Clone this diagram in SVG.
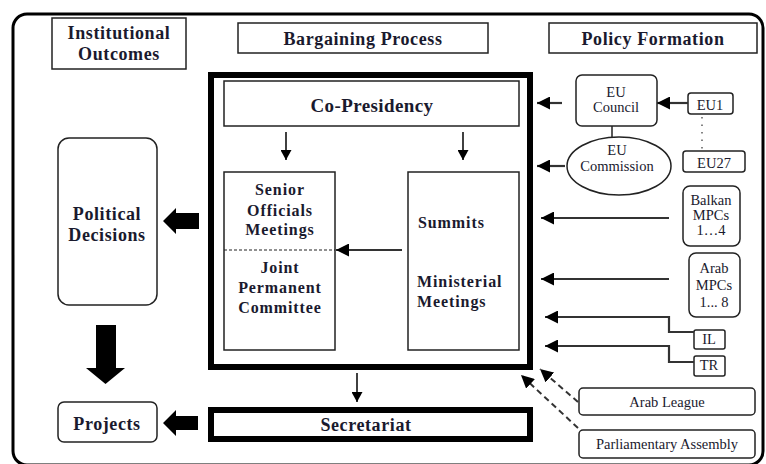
<svg xmlns="http://www.w3.org/2000/svg" width="766" height="464" viewBox="0 0 766 464">
<style>
  .hb{font-family:"Liberation Serif","Times New Roman",serif;font-weight:bold;font-size:18px;letter-spacing:0.6px;fill:#1a1a2e;text-anchor:middle}
  .bb{font-family:"Liberation Serif","Times New Roman",serif;font-weight:bold;font-size:16px;letter-spacing:0.9px;fill:#1a1a2e;text-anchor:middle}
  .rt{font-family:"Liberation Serif","Times New Roman",serif;font-size:14.5px;fill:#1a1a2e;text-anchor:middle}
  .box{fill:#fff;stroke:#222;stroke-width:1.5}
  .thick{fill:#fff;stroke:#000;stroke-width:6}
  .ln{fill:none;stroke:#111;stroke-width:1.6}
  .ln2{fill:none;stroke:#333;stroke-width:2.2}
  .dash{fill:none;stroke:#333;stroke-width:2;stroke-dasharray:6 4}
</style>
<defs>
  <marker id="ah" markerUnits="userSpaceOnUse" markerWidth="10" markerHeight="11" refX="10" refY="5.5" orient="auto">
    <path d="M0,0 L10,5.5 L0,11 z" fill="#000"/>
  </marker>
  <marker id="ahL" markerUnits="userSpaceOnUse" markerWidth="13" markerHeight="13" refX="13" refY="6.5" orient="auto">
    <path d="M0,0 L13,6.5 L0,13 z" fill="#000"/>
  </marker>
</defs>
<rect x="0" y="0" width="766" height="464" fill="#fff"/>
<rect x="13" y="14" width="750" height="451" rx="14" fill="none" stroke="#000" stroke-width="3"/>

<g id="institutional-outcomes">
  <rect class="box" x="52" y="18" width="134" height="51"/>
  <text class="hb" x="119" y="39">Institutional</text>
  <text class="hb" x="119" y="60">Outcomes</text>
</g>
<g id="bargaining-process">
  <rect class="box" x="238" y="23" width="250" height="30"/>
  <text class="hb" x="363" y="45">Bargaining Process</text>
</g>
<g id="policy-formation">
  <rect class="box" x="549" y="23" width="208" height="30"/>
  <text class="hb" x="653" y="45">Policy Formation</text>
</g>

<g id="bargaining-frame">
  <rect class="thick" x="211" y="75" width="319" height="292"/>
</g>
<g id="co-presidency">
  <rect class="box" x="224" y="81" width="295" height="45"/>
  <text class="hb" x="372" y="112" style="font-size:19px;letter-spacing:0.4px">Co-Presidency</text>
</g>
<g id="senior-officials">
  <rect class="box" x="224" y="172" width="111" height="178"/>
  <text class="bb" x="280" y="195">Senior</text>
  <text class="bb" x="280" y="216">Officials</text>
  <text class="bb" x="280" y="235">Meetings</text>
  <line x1="224" y1="250" x2="335" y2="250" stroke="#222" stroke-width="1.2" stroke-dasharray="3 2"/>
  <text class="bb" x="280" y="273">Joint</text>
  <text class="bb" x="280" y="293">Permanent</text>
  <text class="bb" x="280" y="313">Committee</text>
</g>
<g id="summits">
  <rect class="box" x="408" y="172" width="111" height="178"/>
  <text class="bb" x="418" y="228" style="text-anchor:start">Summits</text>
  <text class="bb" x="417" y="287" style="text-anchor:start">Ministerial</text>
  <text class="bb" x="417" y="307" style="text-anchor:start">Meetings</text>
</g>
<g id="secretariat">
  <rect class="thick" x="211" y="410" width="319" height="29"/>
  <text class="hb" x="366" y="431">Secretariat</text>
</g>
<g id="political-decisions">
  <rect class="box" x="58" y="138" width="99" height="167" rx="11"/>
  <text class="hb" x="107" y="220">Political</text>
  <text class="hb" x="107" y="241">Decisions</text>
</g>
<g id="projects">
  <rect class="box" x="58" y="402" width="99" height="40" rx="6"/>
  <text class="hb" x="107" y="430">Projects</text>
</g>

<g id="eu-council">
  <rect class="box" x="576" y="75" width="81" height="51" rx="6"/>
  <text class="rt" x="616" y="97">EU</text>
  <text class="rt" x="616" y="112">Council</text>
</g>
<g id="eu-commission">
  <ellipse class="box" cx="619" cy="166" rx="52" ry="29"/>
  <text class="rt" x="617" y="155">EU</text>
  <text class="rt" x="617" y="171">Commission</text>
</g>
<g id="eu1">
  <rect class="box" x="688" y="93" width="45" height="21" rx="3"/>
  <text class="rt" x="710" y="110">EU1</text>
</g>
<g id="eu27">
  <rect class="box" x="683" y="151" width="62" height="21" rx="3"/>
  <text class="rt" x="714" y="168">EU27</text>
</g>
<g id="balkan-mpcs">
  <rect class="box" x="683" y="186" width="57" height="60" rx="7"/>
  <text class="rt" x="711" y="205">Balkan</text>
  <text class="rt" x="711" y="220">MPCs</text>
  <text class="rt" x="711" y="235">1…4</text>
</g>
<g id="arab-mpcs">
  <rect class="box" x="689" y="253" width="51" height="64" rx="7"/>
  <text class="rt" x="714" y="273">Arab</text>
  <text class="rt" x="714" y="290">MPCs</text>
  <text class="rt" x="714" y="307">1... 8</text>
</g>
<g id="il">
  <rect class="box" x="694" y="330" width="31" height="19" rx="2"/>
  <text class="rt" x="709" y="344">IL</text>
</g>
<g id="tr">
  <rect class="box" x="694" y="356" width="31" height="20" rx="2"/>
  <text class="rt" x="709" y="370">TR</text>
</g>
<g id="arab-league">
  <rect class="box" x="579" y="388" width="176" height="27" rx="4"/>
  <text class="rt" x="667" y="407">Arab League</text>
</g>
<g id="parliamentary-assembly">
  <rect class="box" x="579" y="430" width="176" height="28" rx="4"/>
  <text class="rt" x="667" y="449">Parliamentary Assembly</text>
</g>

<g id="connectors">
  <line class="ln" x1="286" y1="132" x2="286" y2="160" marker-end="url(#ah)"/>
  <line class="ln" x1="463" y1="132" x2="463" y2="160" marker-end="url(#ah)"/>
  <line class="ln2" x1="402" y1="250" x2="336" y2="250" stroke="#000" stroke-width="2.6" marker-end="url(#ahL)"/>
  <line class="ln" x1="357" y1="373" x2="357" y2="402" marker-end="url(#ah)"/>
  <line class="ln2" x1="562" y1="103" x2="537" y2="103" marker-end="url(#ahL)"/>
  <line class="ln2" x1="565" y1="166" x2="537" y2="166" marker-end="url(#ahL)"/>
  <line class="ln2" x1="688" y1="103" x2="657" y2="103" marker-end="url(#ahL)"/>
  <line x1="612" y1="126" x2="612" y2="137" stroke="#222" stroke-width="1.5"/>
  <line x1="702" y1="117" x2="702" y2="149" stroke="#333" stroke-width="1.2" stroke-dasharray="1.5 6"/>
  <line class="ln2" x1="669" y1="218" x2="541" y2="218" marker-end="url(#ahL)"/>
  <line class="ln2" x1="669" y1="279" x2="541" y2="279" marker-end="url(#ahL)"/>
  <polyline class="ln2" points="694,332 669,332 669,317 545,317" marker-end="url(#ahL)"/>
  <polyline class="ln2" points="694,362 669,362 669,346 545,346" marker-end="url(#ahL)"/>
  <line class="dash" x1="578" y1="402" x2="540" y2="369" marker-end="url(#ahL)"/>
  <line class="dash" x1="578" y1="428" x2="521" y2="375" marker-end="url(#ahL)"/>
  <polygon points="163,221 176,208 176,213 199,213 199,229 176,229 176,234" fill="#000"/>
  <polygon points="163,423 176,410 176,416 198,416 198,430 176,430 176,436" fill="#000"/>
  <polygon points="96,325 116,325 116,368 125,368 105.5,384 86,368 96,368" fill="#000"/>
</g>
</svg>
